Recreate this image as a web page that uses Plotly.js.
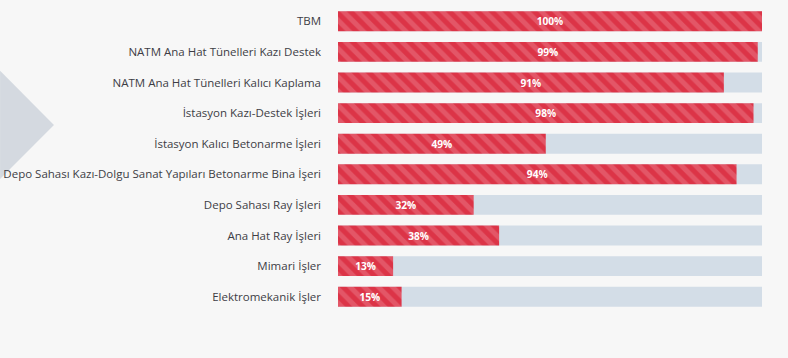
<!DOCTYPE html>
<html>
<head>
<meta charset="utf-8">
<script src="https://cdn.plot.ly/plotly-3.0.1.min.js"></script>
<style>
html,body{margin:0;padding:0;background:#f7f7f7;}
#chart{width:788px;height:358px;}
</style>
</head>
<body>
<div id="chart"></div>
<script>
const categories = [
  "TBM",
  "NATM Ana Hat Tünelleri Kazı Destek",
  "NATM Ana Hat Tünelleri Kalıcı Kaplama",
  "İstasyon Kazı-Destek İşleri",
  "İstasyon Kalıcı Betonarme İşleri",
  "Depo Sahası Kazı-Dolgu Sanat Yapıları Betonarme Bina İşeri",
  "Depo Sahası Ray İşleri",
  "Ana Hat Ray İşleri",
  "Mimari İşler",
  "Elektromekanik İşler"
];
const progress = [100, 99, 91, 98, 49, 94, 32, 38, 13, 15];
const totals = [100, 100, 100, 100, 100, 100, 100, 100, 100, 100];
const progressLabels = progress.map(v => v + "%");

const font = "Open Sans, Lato, sans-serif";

const bgTrace = {
  type: "bar", orientation: "h",
  y: categories, x: totals,
  marker: {color: "#d3dde7", line: {width: 0}},
  width: 0.65, hoverinfo: "skip", showlegend: false
};
const fgTrace = {
  type: "bar", orientation: "h",
  y: categories, x: progress,
  text: progressLabels, textposition: "inside", insidetextanchor: "middle",
  textfont: {color: "#ffffff", size: 11, family: font, weight: 700},
  marker: {
    color: "#dc3447",
    line: {width: 0},
    pattern: {shape: "\\", size: 10, solidity: 0.5, fgcolor: "#e35667", bgcolor: "#dc3447", fillmode: "replace"}
  },
  width: 0.65, showlegend: false, cliponaxis: false
};

const layout = {
  width: 788, height: 358,
  paper_bgcolor: "#f7f7f7", plot_bgcolor: "#f7f7f7",
  margin: {l: 338, r: 26, t: 6, b: 46},
  barmode: "overlay",
  xaxis: {range: [0, 100], showgrid: false, zeroline: false, showticklabels: false, fixedrange: true},
  yaxis: {
    autorange: "reversed", showgrid: false, zeroline: false, ticks: "",
    ticklabelstandoff: 16,
    tickfont: {family: font, size: 11.5, color: "#3d3d45"}
  },
  uniformtext: {mode: "show", minsize: 8},
  shapes: [{
    type: "path", xref: "paper", yref: "paper", layer: "below",
    path: "M -0.797 0.788 L -0.670 0.611 L -0.797 0.435 Z",
    fillcolor: "#d4d9e0", line: {width: 0}
  }]
};

Plotly.newPlot("chart", [bgTrace, fgTrace], layout, {displayModeBar: false, staticPlot: true});
</script>
</body>
</html>
